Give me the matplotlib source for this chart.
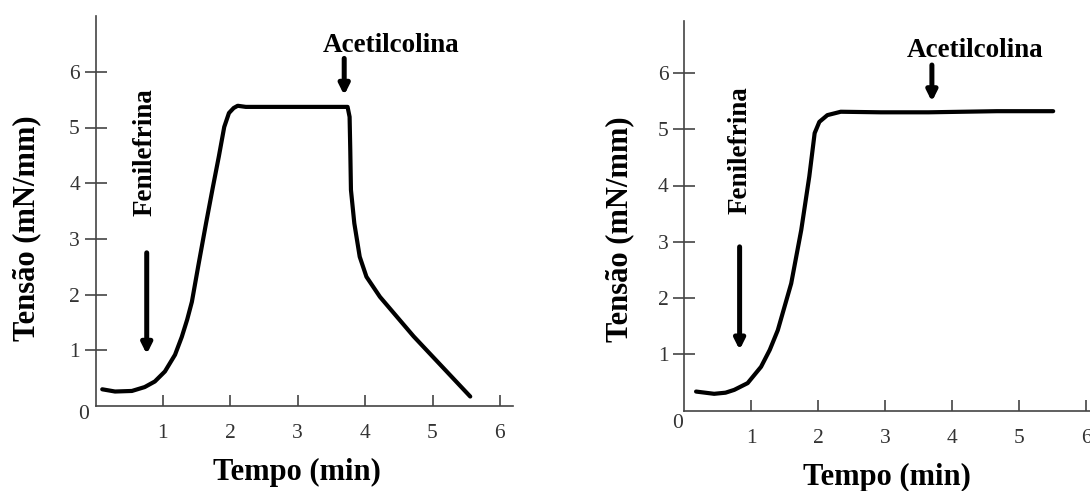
import matplotlib
matplotlib.use('Agg')
import matplotlib.pyplot as plt

plt.rcParams['font.family'] = ['Liberation Serif', 'DejaVu Serif']

# painel esquerdo: fenilefrina e depois acetilcolina (relaxamento)
t_esq = [0.10, 0.29, 0.54, 0.73, 0.88, 1.03, 1.18, 1.28, 1.36, 1.43, 1.53,
         1.64, 1.74, 1.83, 1.91, 1.98, 2.05, 2.11, 2.23, 2.6, 3.0, 3.4, 3.74,
         3.77, 3.78, 3.79, 3.84, 3.92, 4.02, 4.22, 4.72, 5.56]
tensao_esq = [0.30, 0.26, 0.27, 0.34, 0.44, 0.62, 0.92, 1.24, 1.55, 1.87, 2.55,
              3.28, 3.92, 4.48, 5.01, 5.26, 5.35, 5.39, 5.37, 5.37, 5.37, 5.37, 5.37,
              5.19, 4.60, 3.88, 3.28, 2.68, 2.32, 1.96, 1.25, 0.17]

# painel direito: acetilcolina sem efeito
t_dir = [0.18, 0.45, 0.62, 0.75, 0.95, 1.15, 1.28, 1.40, 1.60, 1.75, 1.87,
         1.95, 2.02, 2.14, 2.34, 2.94, 3.65, 4.67, 5.51]
tensao_dir = [0.34, 0.30, 0.32, 0.37, 0.49, 0.78, 1.08, 1.43, 2.26, 3.21, 4.16,
              4.93, 5.13, 5.25, 5.31, 5.30, 5.30, 5.32, 5.32]

ticks = [1, 2, 3, 4, 5, 6]
xlabel = 'Tempo (min)'
ylabel = 'Tensão (mN/mm)'

# setas: (x, y_inicio, y_fim)
fen_esq = (0.76, 2.75, 0.93)
ach_esq = (3.69, 6.24, 5.58)
fen_dir = (0.83, 2.91, 1.08)
ach_dir = (3.70, 6.14, 5.49)

W, H = 1090, 491
fig = plt.figure(figsize=(W / 100, H / 100), dpi=100)


def make_axes(left, bottom, ux, uy, xmax, ymax):
    return fig.add_axes([left / W, (H - bottom) / H, xmax * ux / W, ymax * uy / H])


def style(ax, xmax, ymax):
    ax.set_xlim(0, xmax)
    ax.set_ylim(0, ymax)
    for s in ['top', 'right']:
        ax.spines[s].set_visible(False)
    for s in ['left', 'bottom']:
        ax.spines[s].set_linewidth(1.2)
        ax.spines[s].set_color('#444444')
    ax.set_xticks(ticks)
    ax.set_yticks(ticks)
    ax.tick_params(axis='x', direction='in', length=8, width=1.2, pad=13,
                   color='#444444', labelcolor='#333333', labelsize=15.5)
    ax.tick_params(axis='y', direction='inout', length=16.5, width=1.2, pad=3,
                   color='#444444', labelcolor='#333333', labelsize=15.5)


def arrow(ax, a):
    x, y0, y1 = a
    ax.annotate('', xy=(x, y1), xytext=(x, y0),
                arrowprops=dict(arrowstyle='-|>,head_length=0.3,head_width=0.15',
                                lw=3.6, color='black', shrinkA=0, shrinkB=0,
                                mutation_scale=20))


# esquerdo
ax1 = make_axes(95.5, 406, 67.4, 55.7, 6.2, 7.0)
style(ax1, 6.2, 7.0)
ax1.plot(t_esq, tensao_esq, color='black', lw=3, solid_joinstyle='round',
         solid_capstyle='round')
arrow(ax1, fen_esq)
arrow(ax1, ach_esq)
ax1.text(0.73, 4.56, 'Fenilefrina', rotation=90, ha='center', va='center',
         fontsize=19.5, fontweight='bold')
ax1.text(4.38, 6.48, 'Acetilcolina', ha='center', va='center',
         fontsize=19.5, fontweight='bold')
ax1.text(-0.17, -0.16, '0', ha='center', va='center', fontsize=15.5, color='#333333')
fig.text(296.7 / W, 1 - 472 / H, xlabel, ha='center', va='center',
         fontsize=22, fontweight='bold')
fig.text(26.6 / W, 1 - 228 / H, ylabel, ha='center', va='center', rotation=90,
         fontsize=22, fontweight='bold')

# direito
ax2 = make_axes(684, 410.7, 67.0, 56.3, 6.1, 6.93)
style(ax2, 6.1, 6.93)
ax2.plot(t_dir, tensao_dir, color='black', lw=3, solid_joinstyle='round',
         solid_capstyle='round')
arrow(ax2, fen_dir)
arrow(ax2, ach_dir)
ax2.text(0.83, 4.63, 'Fenilefrina', rotation=90, ha='center', va='center',
         fontsize=19.5, fontweight='bold')
ax2.text(4.34, 6.40, 'Acetilcolina', ha='center', va='center',
         fontsize=19.5, fontweight='bold')
ax2.text(-0.10, -0.22, '0', ha='center', va='center', fontsize=15.5, color='#333333')
fig.text(886.7 / W, 1 - 477 / H, xlabel, ha='center', va='center',
         fontsize=22, fontweight='bold')
fig.text(619.5 / W, 1 - 229 / H, ylabel, ha='center', va='center', rotation=90,
         fontsize=22, fontweight='bold')

fig.savefig('out.png', dpi=100)
